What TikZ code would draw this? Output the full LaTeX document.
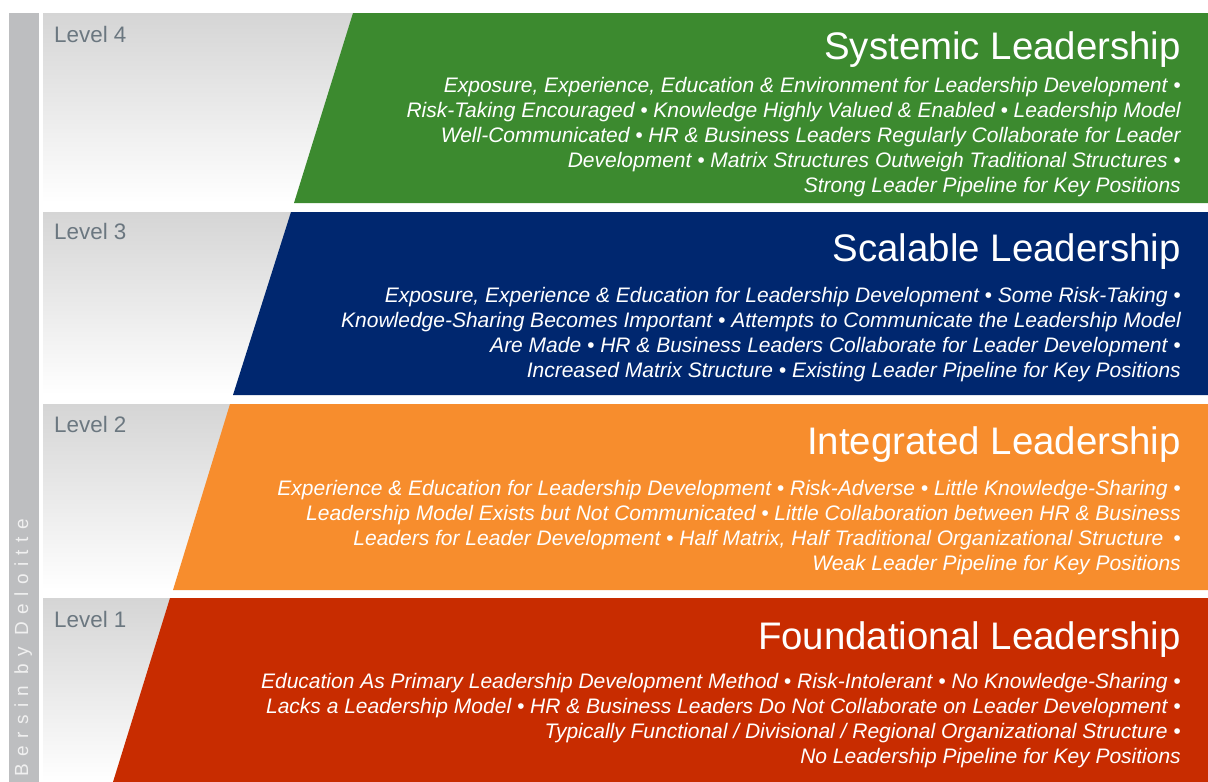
\documentclass[tikz,border=0pt]{standalone}
\usepackage{fontspec}
\setmainfont{Liberation Sans}
\definecolor{cgreen}{HTML}{3C8A2F}
\definecolor{cblue}{HTML}{00276F}
\definecolor{corange}{HTML}{F78D2D}
\definecolor{cred}{HTML}{C82C00}
\definecolor{cbar}{HTML}{BDBEC0}
\definecolor{clevel}{HTML}{6B7780}
\definecolor{cgreytop}{HTML}{D5D5D5}
\definecolor{cvert}{HTML}{F0F0F0}
\newcommand{\lsp}{\kern7.5pt}
\newcommand{\wsp}{\kern11pt}
\begin{document}
\begin{tikzpicture}[x=1pt,y=-1pt,
  bg/.style={top color=cgreytop,bottom color=white},
  title/.style={anchor=base east,inner sep=0pt,text=white,font=\fontsize{38.4}{42}\selectfont},
  body/.style={anchor=base east,inner sep=0pt,text=white,font=\fontsize{21}{25}\selectfont\itshape},
  lvl/.style={anchor=base west,inner sep=0pt,text=clevel,font=\fontsize{22.4}{26}\selectfont}]
\useasboundingbox (0,0) rectangle (1208,782);
% left bar
\fill[cbar] (9,13) rectangle (39,782);
\node[rotate=90,anchor=base west,inner sep=0pt,text=cvert,font=\fontsize{19}{20}\selectfont] (brand) at (28,777)
 {B\lsp e\lsp r\lsp s\lsp i\lsp n\wsp b\lsp y\wsp D\lsp e\lsp l\lsp o\lsp i\lsp t\lsp t\lsp e};
% band 4
\fill[bg] (43,13) rectangle (1208,203);
\fill[cgreen] (353,13) -- (1208,13) -- (1208,203) -- (294,203) -- cycle;
% band 3
\fill[bg] (43,212) rectangle (1208,395);
\fill[cblue] (291,212) -- (1208,212) -- (1208,395) -- (233,395) -- cycle;
% band 2
\fill[bg] (43,404) rectangle (1208,590);
\fill[corange] (230,404) -- (1208,404) -- (1208,590) -- (173,590) -- cycle;
% band 1
\fill[bg] (43,598) rectangle (1208,782);
\fill[cred] (170,598) -- (1208,598) -- (1208,782) -- (113,782) -- cycle;

% level labels
\node[lvl] (l4) at (54,42) {Level 4};
\node[lvl] (l3) at (54,239) {Level 3};
\node[lvl] (l2) at (54,432) {Level 2};
\node[lvl] (l1) at (54,627) {Level 1};

% level 4 text
\node[title] (t4) at (1181,59) {Systemic Leadership};
\node[body] (a1) at (1181,92) {Exposure, Experience, Education \& Environment for Leadership Development •};
\node[body] (a2) at (1181,117) {Risk-Taking Encouraged • Knowledge Highly Valued \& Enabled • Leadership Model};
\node[body] (a3) at (1181,142) {Well-Communicated • HR \& Business Leaders Regularly Collaborate for Leader};
\node[body] (a4) at (1181,167) {Development • Matrix Structures Outweigh Traditional Structures •};
\node[body] (a5) at (1181,192) {Strong Leader Pipeline for Key Positions};

% level 3 text
\node[title] (t3) at (1181,261) {Scalable Leadership};
\node[body] (b1) at (1181,302) {Exposure, Experience \& Education for Leadership Development • Some Risk-Taking •};
\node[body] (b2) at (1181,327) {Knowledge-Sharing Becomes Important • Attempts to Communicate the Leadership Model};
\node[body] (b3) at (1181,352) {Are Made • HR \& Business Leaders Collaborate for Leader Development •};
\node[body] (b4) at (1181,377) {Increased Matrix Structure • Existing Leader Pipeline for Key Positions};

% level 2 text
\node[title] (t2) at (1181,454) {Integrated Leadership};
\node[body] (c1) at (1181,495) {Experience \& Education for Leadership Development • Risk-Adverse • Little Knowledge-Sharing •};
\node[body] (c2) at (1181,520) {Leadership Model Exists but Not Communicated • Little Collaboration between HR \& Business};
\node[body] (c3) at (1181,545) {Leaders for Leader Development • Half Matrix, Half Traditional Organizational Structure\kern10pt •};
\node[body] (c4) at (1181,570) {Weak Leader Pipeline for Key Positions};

% level 1 text
\node[title] (t1) at (1181,649) {Foundational Leadership};
\node[body] (d1) at (1181,688) {Education As Primary Leadership Development Method • Risk-Intolerant • No Knowledge-Sharing •};
\node[body] (d2) at (1181,713) {Lacks a Leadership Model • HR \& Business Leaders Do Not Collaborate on Leader Development •};
\node[body] (d3) at (1181,738) {Typically Functional / Divisional / Regional Organizational Structure •};
\node[body] (d4) at (1181,763) {No Leadership Pipeline for Key Positions};
\end{tikzpicture}
\end{document}
